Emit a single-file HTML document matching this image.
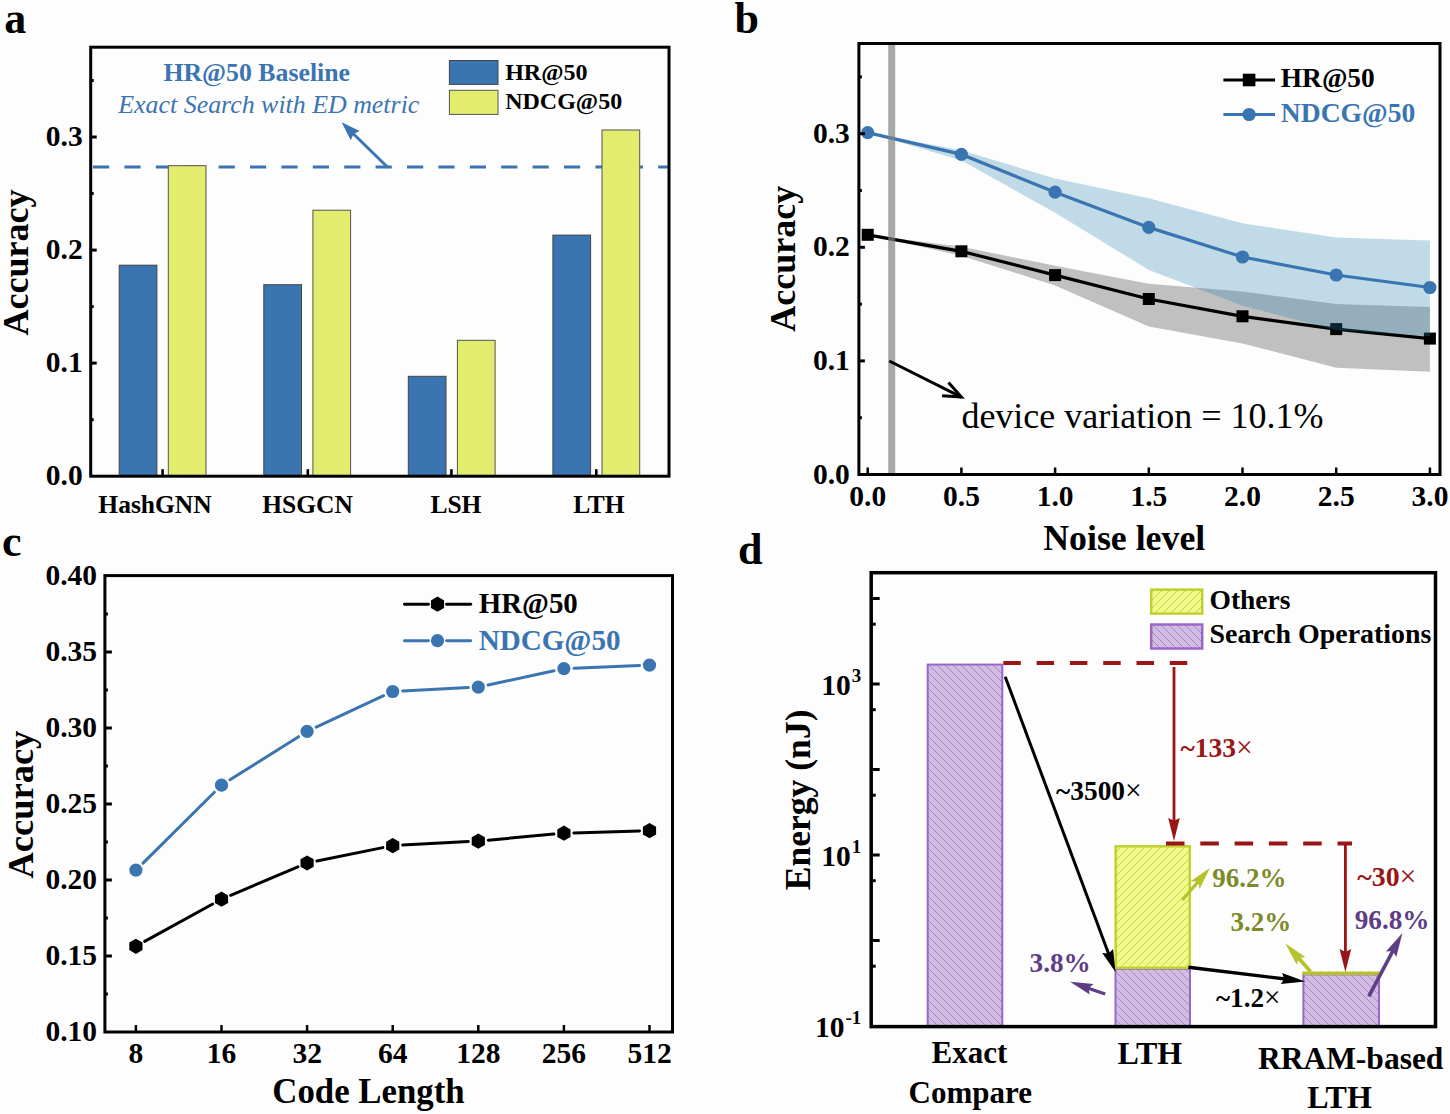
<!DOCTYPE html>
<html><head><meta charset="utf-8"><style>
html,body{margin:0;padding:0;background:#fdfdfd;}
svg{display:block;font-family:"Liberation Serif",serif;}
</style></head><body>
<svg width="1450" height="1114" viewBox="0 0 1450 1114">
<rect width="1450" height="1114" fill="#fdfdfd"/>
<line x1="93.0" y1="166.9" x2="669.0" y2="166.9" stroke="#3b75b1" stroke-width="3" stroke-dasharray="16.2 15.2"/>
<rect x="119.2" y="265.2" width="37.7" height="211.0" fill="#3b75b1" stroke="#444" stroke-width="1"/>
<rect x="168.3" y="165.7" width="37.7" height="310.5" fill="#e3ec6d" stroke="#555" stroke-width="1"/>
<rect x="263.8" y="284.7" width="37.7" height="191.5" fill="#3b75b1" stroke="#444" stroke-width="1"/>
<rect x="312.9" y="210.2" width="37.7" height="266.0" fill="#e3ec6d" stroke="#555" stroke-width="1"/>
<rect x="408.3" y="376.3" width="37.7" height="99.9" fill="#3b75b1" stroke="#444" stroke-width="1"/>
<rect x="457.4" y="340.3" width="37.7" height="135.9" fill="#e3ec6d" stroke="#555" stroke-width="1"/>
<rect x="552.9" y="235.1" width="37.7" height="241.1" fill="#3b75b1" stroke="#444" stroke-width="1"/>
<rect x="602.0" y="130.0" width="37.7" height="346.2" fill="#e3ec6d" stroke="#555" stroke-width="1"/>
<line x1="387.9" y1="167.5" x2="352.8" y2="133.3" stroke="#3b75b1" stroke-width="3"/>
<polygon points="341.6,122.3 359.7,130.9 353.6,134.0 350.7,140.2" fill="#3b75b1" stroke="none" stroke-width="0"/>
<rect x="90.7" y="47.2" width="578.3" height="429.0" fill="none" stroke="#000" stroke-width="3"/>
<line x1="90.7" y1="363.1" x2="96.7" y2="363.1" stroke="#000" stroke-width="3"/>
<line x1="90.7" y1="250.1" x2="96.7" y2="250.1" stroke="#000" stroke-width="3"/>
<line x1="90.7" y1="137.0" x2="96.7" y2="137.0" stroke="#000" stroke-width="3"/>
<line x1="90.7" y1="419.7" x2="93.7" y2="419.7" stroke="#000" stroke-width="3"/>
<line x1="90.7" y1="306.6" x2="93.7" y2="306.6" stroke="#000" stroke-width="3"/>
<line x1="90.7" y1="193.5" x2="93.7" y2="193.5" stroke="#000" stroke-width="3"/>
<line x1="90.7" y1="80.5" x2="93.7" y2="80.5" stroke="#000" stroke-width="3"/>
<line x1="162.6" y1="476.2" x2="162.6" y2="469.2" stroke="#000" stroke-width="2.6"/>
<line x1="307.8" y1="476.2" x2="307.8" y2="469.2" stroke="#000" stroke-width="2.6"/>
<line x1="451.4" y1="476.2" x2="451.4" y2="469.2" stroke="#000" stroke-width="2.6"/>
<line x1="596.3" y1="476.2" x2="596.3" y2="469.2" stroke="#000" stroke-width="2.6"/>
<text x="45.8" y="485.2" font-size="29.5" font-weight="bold" font-style="normal" fill="#000">0.0</text>
<text x="45.8" y="372.1" font-size="29.5" font-weight="bold" font-style="normal" fill="#000">0.1</text>
<text x="45.8" y="259.1" font-size="29.5" font-weight="bold" font-style="normal" fill="#000">0.2</text>
<text x="45.8" y="146.0" font-size="29.5" font-weight="bold" font-style="normal" fill="#000">0.3</text>
<text x="98.3" y="512.5" font-size="25.5" font-weight="bold" font-style="normal" fill="#000">HashGNN</text>
<text x="262.2" y="512.5" font-size="25.5" font-weight="bold" font-style="normal" fill="#000">HSGCN</text>
<text x="430.4" y="512.5" font-size="25.5" font-weight="bold" font-style="normal" fill="#000">LSH</text>
<text x="573.2" y="512.5" font-size="25.5" font-weight="bold" font-style="normal" fill="#000">LTH</text>
<text transform="translate(27.5,262.4) rotate(-90)" x="-73.0" y="0" font-size="36" font-weight="bold" fill="#000">Accuracy</text>
<text x="4.2" y="32.5" font-size="44" font-weight="bold" font-style="normal" fill="#000">a</text>
<rect x="449.4" y="60.5" width="48.6" height="23.9" fill="#3b75b1" stroke="#444" stroke-width="1"/>
<rect x="449.4" y="90.3" width="48.6" height="24.1" fill="#e3ec6d" stroke="#555" stroke-width="1"/>
<text x="505.2" y="79.6" font-size="24" font-weight="bold" font-style="normal" fill="#000">HR@50</text>
<text x="505.2" y="109.0" font-size="24" font-weight="bold" font-style="normal" fill="#000">NDCG@50</text>
<text x="163.4" y="81.0" font-size="25.8" font-weight="bold" font-style="normal" fill="#3b75b1">HR@50 Baseline</text>
<text x="118.3" y="112.9" font-size="25.9" font-weight="normal" font-style="italic" fill="#3b75b1">Exact Search with ED metric</text>
<polygon points="867.7,234.8 961.4,246.7 1055.1,265.7 1148.8,283.7 1242.5,291.6 1336.2,304.1 1429.9,307.1 1429.9,371.8 1336.2,367.7 1242.5,343.4 1148.8,326.4 1055.1,285.5 961.4,255.8 867.7,234.8" fill="#c0c0c0" stroke="none" stroke-width="0"/>
<polyline points="867.7,234.8 961.4,251.3 1055.1,275.1 1148.8,299.0 1242.5,316.3 1336.2,329.1 1429.9,338.6" fill="none" stroke="#000" stroke-width="3.2" stroke-linejoin="miter"/>
<rect x="861.7" y="228.8" width="12.0" height="12.0" fill="#000" stroke="none" stroke-width="0"/>
<rect x="955.4" y="245.3" width="12.0" height="12.0" fill="#000" stroke="none" stroke-width="0"/>
<rect x="1049.1" y="269.1" width="12.0" height="12.0" fill="#000" stroke="none" stroke-width="0"/>
<rect x="1142.8" y="293.0" width="12.0" height="12.0" fill="#000" stroke="none" stroke-width="0"/>
<rect x="1236.5" y="310.3" width="12.0" height="12.0" fill="#000" stroke="none" stroke-width="0"/>
<rect x="1330.2" y="323.1" width="12.0" height="12.0" fill="#000" stroke="none" stroke-width="0"/>
<rect x="1423.9" y="332.6" width="12.0" height="12.0" fill="#000" stroke="none" stroke-width="0"/>
<polygon points="867.7,132.6 961.4,150.2 1055.1,178.5 1148.8,198.3 1242.5,223.3 1336.2,237.6 1429.9,240.5 1429.9,336.2 1336.2,330.2 1242.5,305.8 1148.8,270.0 1055.1,212.7 961.4,160.4 867.7,132.6" fill="rgb(36,133,176)" stroke="none" stroke-width="0" fill-opacity="0.28"/>
<polyline points="867.7,132.6 961.4,154.4 1055.1,192.2 1148.8,227.4 1242.5,257.0 1336.2,275.0 1429.9,287.5" fill="none" stroke="#3b75b1" stroke-width="3.2" stroke-linejoin="miter"/>
<circle cx="867.7" cy="132.6" r="6.6" fill="#3b75b1"/>
<circle cx="961.4" cy="154.4" r="6.6" fill="#3b75b1"/>
<circle cx="1055.1" cy="192.2" r="6.6" fill="#3b75b1"/>
<circle cx="1148.8" cy="227.4" r="6.6" fill="#3b75b1"/>
<circle cx="1242.5" cy="257.0" r="6.6" fill="#3b75b1"/>
<circle cx="1336.2" cy="275.0" r="6.6" fill="#3b75b1"/>
<circle cx="1429.9" cy="287.5" r="6.6" fill="#3b75b1"/>
<rect x="888.2" y="43.5" width="7.0" height="431.0" fill="#7e7e7e" stroke="none" stroke-width="0" fill-opacity="0.675"/>
<line x1="889.3" y1="361.0" x2="961.4" y2="397.1" stroke="#000" stroke-width="3"/>
<polyline points="948.5,382.5 961.4,397.1 942.0,395.8" fill="none" stroke="#000" stroke-width="3" stroke-linejoin="miter"/>
<text x="961.4" y="427.7" font-size="36" font-weight="normal" font-style="normal" fill="#000">device variation = 10.1%</text>
<rect x="858.9" y="43.5" width="581.1" height="431.0" fill="none" stroke="#000" stroke-width="3"/>
<line x1="858.9" y1="360.9" x2="864.9" y2="360.9" stroke="#000" stroke-width="3"/>
<line x1="858.9" y1="247.3" x2="864.9" y2="247.3" stroke="#000" stroke-width="3"/>
<line x1="858.9" y1="133.7" x2="864.9" y2="133.7" stroke="#000" stroke-width="3"/>
<line x1="858.9" y1="417.7" x2="861.9" y2="417.7" stroke="#000" stroke-width="3"/>
<line x1="858.9" y1="304.1" x2="861.9" y2="304.1" stroke="#000" stroke-width="3"/>
<line x1="858.9" y1="190.5" x2="861.9" y2="190.5" stroke="#000" stroke-width="3"/>
<line x1="858.9" y1="76.9" x2="861.9" y2="76.9" stroke="#000" stroke-width="3"/>
<line x1="867.7" y1="474.5" x2="867.7" y2="467.5" stroke="#000" stroke-width="2.5"/>
<line x1="961.4" y1="474.5" x2="961.4" y2="467.5" stroke="#000" stroke-width="2.5"/>
<line x1="1055.1" y1="474.5" x2="1055.1" y2="467.5" stroke="#000" stroke-width="2.5"/>
<line x1="1148.8" y1="474.5" x2="1148.8" y2="467.5" stroke="#000" stroke-width="2.5"/>
<line x1="1242.5" y1="474.5" x2="1242.5" y2="467.5" stroke="#000" stroke-width="2.5"/>
<line x1="1336.2" y1="474.5" x2="1336.2" y2="467.5" stroke="#000" stroke-width="2.5"/>
<line x1="1429.9" y1="474.5" x2="1429.9" y2="467.5" stroke="#000" stroke-width="2.5"/>
<text x="812.9" y="483.5" font-size="29.5" font-weight="bold" font-style="normal" fill="#000">0.0</text>
<text x="812.9" y="369.9" font-size="29.5" font-weight="bold" font-style="normal" fill="#000">0.1</text>
<text x="812.9" y="256.3" font-size="29.5" font-weight="bold" font-style="normal" fill="#000">0.2</text>
<text x="812.9" y="142.7" font-size="29.5" font-weight="bold" font-style="normal" fill="#000">0.3</text>
<text x="849.3" y="505.5" font-size="29.5" font-weight="bold" font-style="normal" fill="#000">0.0</text>
<text x="943.0" y="505.5" font-size="29.5" font-weight="bold" font-style="normal" fill="#000">0.5</text>
<text x="1036.7" y="505.5" font-size="29.5" font-weight="bold" font-style="normal" fill="#000">1.0</text>
<text x="1130.4" y="505.5" font-size="29.5" font-weight="bold" font-style="normal" fill="#000">1.5</text>
<text x="1224.1" y="505.5" font-size="29.5" font-weight="bold" font-style="normal" fill="#000">2.0</text>
<text x="1317.8" y="505.5" font-size="29.5" font-weight="bold" font-style="normal" fill="#000">2.5</text>
<text x="1411.5" y="505.5" font-size="29.5" font-weight="bold" font-style="normal" fill="#000">3.0</text>
<text x="1043.2" y="549.8" font-size="35.8" font-weight="bold" font-style="normal" fill="#000">Noise level</text>
<text transform="translate(794.5,258.8) rotate(-90)" x="-73.0" y="0" font-size="36" font-weight="bold" fill="#000">Accuracy</text>
<text x="734.4" y="32.8" font-size="44" font-weight="bold" font-style="normal" fill="#000">b</text>
<line x1="1223.4" y1="80.0" x2="1275.0" y2="80.0" stroke="#000" stroke-width="3.2"/>
<rect x="1242.8" y="73.7" width="12.6" height="12.6" fill="#000" stroke="none" stroke-width="0"/>
<line x1="1223.4" y1="114.5" x2="1275.0" y2="114.5" stroke="#3b75b1" stroke-width="3.2"/>
<circle cx="1249.1" cy="114.5" r="6.6" fill="#3b75b1"/>
<text x="1280.8" y="86.8" font-size="27.4" font-weight="bold" font-style="normal" fill="#000">HR@50</text>
<text x="1280.8" y="122.0" font-size="27.6" font-weight="bold" font-style="normal" fill="#3b75b1">NDCG@50</text>
<line x1="144.7" y1="941.4" x2="212.7" y2="904.0" stroke="#000" stroke-width="3.0" stroke-linecap="round"/>
<line x1="230.7" y1="895.3" x2="297.9" y2="866.9" stroke="#000" stroke-width="3.0" stroke-linecap="round"/>
<line x1="316.9" y1="861.0" x2="382.9" y2="847.6" stroke="#000" stroke-width="3.0" stroke-linecap="round"/>
<line x1="402.7" y1="845.1" x2="468.3" y2="841.6" stroke="#000" stroke-width="3.0" stroke-linecap="round"/>
<line x1="488.3" y1="840.2" x2="553.9" y2="834.1" stroke="#000" stroke-width="3.0" stroke-linecap="round"/>
<line x1="573.9" y1="832.9" x2="639.5" y2="830.9" stroke="#000" stroke-width="3.0" stroke-linecap="round"/>
<polygon points="135.9,953.9 129.3,950.1 129.3,942.5 135.9,938.7 142.5,942.5 142.5,950.1" fill="#000" stroke="none" stroke-width="0"/>
<polygon points="221.5,906.8 214.9,903.0 214.9,895.4 221.5,891.6 228.1,895.4 228.1,903.0" fill="#000" stroke="none" stroke-width="0"/>
<polygon points="307.1,870.6 300.5,866.8 300.5,859.2 307.1,855.4 313.7,859.2 313.7,866.8" fill="#000" stroke="none" stroke-width="0"/>
<polygon points="392.7,853.2 386.1,849.4 386.1,841.8 392.7,838.0 399.3,841.8 399.3,849.4" fill="#000" stroke="none" stroke-width="0"/>
<polygon points="478.3,848.7 471.7,844.9 471.7,837.3 478.3,833.5 484.9,837.3 484.9,844.9" fill="#000" stroke="none" stroke-width="0"/>
<polygon points="563.9,840.8 557.3,837.0 557.3,829.4 563.9,825.6 570.5,829.4 570.5,837.0" fill="#000" stroke="none" stroke-width="0"/>
<polygon points="649.5,838.2 642.9,834.4 642.9,826.8 649.5,823.0 656.1,826.8 656.1,834.4" fill="#000" stroke="none" stroke-width="0"/>
<line x1="143.0" y1="863.1" x2="214.4" y2="792.2" stroke="#3b75b1" stroke-width="3.0" stroke-linecap="round"/>
<line x1="230.0" y1="779.8" x2="298.6" y2="736.7" stroke="#3b75b1" stroke-width="3.0" stroke-linecap="round"/>
<line x1="316.2" y1="727.1" x2="383.6" y2="695.7" stroke="#3b75b1" stroke-width="3.0" stroke-linecap="round"/>
<line x1="402.7" y1="691.0" x2="468.3" y2="687.6" stroke="#3b75b1" stroke-width="3.0" stroke-linecap="round"/>
<line x1="488.1" y1="685.0" x2="554.1" y2="670.7" stroke="#3b75b1" stroke-width="3.0" stroke-linecap="round"/>
<line x1="573.9" y1="668.2" x2="639.5" y2="665.5" stroke="#3b75b1" stroke-width="3.0" stroke-linecap="round"/>
<circle cx="135.9" cy="870.1" r="6.6" fill="#3b75b1"/>
<circle cx="221.5" cy="785.2" r="6.6" fill="#3b75b1"/>
<circle cx="307.1" cy="731.3" r="6.6" fill="#3b75b1"/>
<circle cx="392.7" cy="691.5" r="6.6" fill="#3b75b1"/>
<circle cx="478.3" cy="687.1" r="6.6" fill="#3b75b1"/>
<circle cx="563.9" cy="668.6" r="6.6" fill="#3b75b1"/>
<circle cx="649.5" cy="665.1" r="6.6" fill="#3b75b1"/>
<rect x="104.9" y="575.6" width="567.6" height="456.4" fill="none" stroke="#000" stroke-width="3"/>
<line x1="135.9" y1="1032.0" x2="135.9" y2="1025.0" stroke="#000" stroke-width="2.5"/>
<line x1="221.5" y1="1032.0" x2="221.5" y2="1025.0" stroke="#000" stroke-width="2.5"/>
<line x1="307.1" y1="1032.0" x2="307.1" y2="1025.0" stroke="#000" stroke-width="2.5"/>
<line x1="392.7" y1="1032.0" x2="392.7" y2="1025.0" stroke="#000" stroke-width="2.5"/>
<line x1="478.3" y1="1032.0" x2="478.3" y2="1025.0" stroke="#000" stroke-width="2.5"/>
<line x1="563.9" y1="1032.0" x2="563.9" y2="1025.0" stroke="#000" stroke-width="2.5"/>
<line x1="649.5" y1="1032.0" x2="649.5" y2="1025.0" stroke="#000" stroke-width="2.5"/>
<line x1="104.9" y1="956.0" x2="111.9" y2="956.0" stroke="#000" stroke-width="3"/>
<line x1="104.9" y1="880.0" x2="111.9" y2="880.0" stroke="#000" stroke-width="3"/>
<line x1="104.9" y1="804.0" x2="111.9" y2="804.0" stroke="#000" stroke-width="3"/>
<line x1="104.9" y1="728.0" x2="111.9" y2="728.0" stroke="#000" stroke-width="3"/>
<line x1="104.9" y1="652.0" x2="111.9" y2="652.0" stroke="#000" stroke-width="3"/>
<line x1="104.9" y1="994.0" x2="107.9" y2="994.0" stroke="#000" stroke-width="3"/>
<line x1="104.9" y1="918.0" x2="107.9" y2="918.0" stroke="#000" stroke-width="3"/>
<line x1="104.9" y1="842.0" x2="107.9" y2="842.0" stroke="#000" stroke-width="3"/>
<line x1="104.9" y1="766.0" x2="107.9" y2="766.0" stroke="#000" stroke-width="3"/>
<line x1="104.9" y1="690.0" x2="107.9" y2="690.0" stroke="#000" stroke-width="3"/>
<line x1="104.9" y1="614.0" x2="107.9" y2="614.0" stroke="#000" stroke-width="3"/>
<text x="45.4" y="1040.8" font-size="29.5" font-weight="bold" font-style="normal" fill="#000">0.10</text>
<text x="45.4" y="964.8" font-size="29.5" font-weight="bold" font-style="normal" fill="#000">0.15</text>
<text x="45.4" y="888.8" font-size="29.5" font-weight="bold" font-style="normal" fill="#000">0.20</text>
<text x="45.4" y="812.8" font-size="29.5" font-weight="bold" font-style="normal" fill="#000">0.25</text>
<text x="45.4" y="736.8" font-size="29.5" font-weight="bold" font-style="normal" fill="#000">0.30</text>
<text x="45.4" y="660.8" font-size="29.5" font-weight="bold" font-style="normal" fill="#000">0.35</text>
<text x="45.4" y="584.8" font-size="29.5" font-weight="bold" font-style="normal" fill="#000">0.40</text>
<text x="128.5" y="1062.5" font-size="29.5" font-weight="bold" font-style="normal" fill="#000">8</text>
<text x="206.8" y="1062.5" font-size="29.5" font-weight="bold" font-style="normal" fill="#000">16</text>
<text x="292.4" y="1062.5" font-size="29.5" font-weight="bold" font-style="normal" fill="#000">32</text>
<text x="377.9" y="1062.5" font-size="29.5" font-weight="bold" font-style="normal" fill="#000">64</text>
<text x="456.2" y="1062.5" font-size="29.5" font-weight="bold" font-style="normal" fill="#000">128</text>
<text x="541.8" y="1062.5" font-size="29.5" font-weight="bold" font-style="normal" fill="#000">256</text>
<text x="627.4" y="1062.5" font-size="29.5" font-weight="bold" font-style="normal" fill="#000">512</text>
<text x="272.3" y="1103.1" font-size="34.8" font-weight="bold" font-style="normal" fill="#000">Code Length</text>
<text transform="translate(33.2,804.6) rotate(-90)" x="-74.0" y="0" font-size="36.5" font-weight="bold" fill="#000">Accuracy</text>
<text x="2.0" y="555.8" font-size="44" font-weight="bold" font-style="normal" fill="#000">c</text>
<line x1="404.5" y1="604.2" x2="428.5" y2="604.2" stroke="#000" stroke-width="2.9" stroke-linecap="round"/>
<line x1="446.5" y1="604.2" x2="470.7" y2="604.2" stroke="#000" stroke-width="2.9" stroke-linecap="round"/>
<polygon points="437.5,611.8 430.9,608.0 430.9,600.4 437.5,596.6 444.1,600.4 444.1,608.0" fill="#000" stroke="none" stroke-width="0"/>
<line x1="404.5" y1="640.7" x2="428.5" y2="640.7" stroke="#3b75b1" stroke-width="2.9" stroke-linecap="round"/>
<line x1="446.5" y1="640.7" x2="470.7" y2="640.7" stroke="#3b75b1" stroke-width="2.9" stroke-linecap="round"/>
<circle cx="437.5" cy="640.7" r="6.6" fill="#3b75b1"/>
<text x="478.7" y="613.4" font-size="28.9" font-weight="bold" font-style="normal" fill="#000">HR@50</text>
<text x="478.7" y="649.9" font-size="29.1" font-weight="bold" font-style="normal" fill="#3b75b1">NDCG@50</text>
<defs>
<pattern id="hp" patternUnits="userSpaceOnUse" width="8" height="8"><rect width="8" height="8" fill="#d0bde0"/><path d="M-2,-2 L10,10 M-2,6 L2,10 M6,-2 L10,2" stroke="#a985d2" stroke-width="1"/></pattern>
<pattern id="hy" patternUnits="userSpaceOnUse" width="8" height="8"><rect width="8" height="8" fill="#f0fa8a"/><path d="M-2,10 L10,-2 M-2,2 L2,-2 M6,10 L10,6" stroke="#c8d648" stroke-width="1"/></pattern>
</defs>
<rect x="927.7" y="664.6" width="74.6" height="362.0" fill="url(#hp)" stroke="#9b66c9" stroke-width="2"/>
<rect x="1115.5" y="968.8" width="74.5" height="57.8" fill="url(#hp)" stroke="#9b66c9" stroke-width="2"/>
<rect x="1115.7" y="846.3" width="74.1" height="121.5" fill="url(#hy)" stroke="#c2cf30" stroke-width="2.5"/>
<rect x="1303.4" y="974.4" width="75.6" height="52.2" fill="url(#hp)" stroke="#9b66c9" stroke-width="2"/>
<line x1="1302.4" y1="973.2" x2="1379.6" y2="973.2" stroke="#b5c22a" stroke-width="3.4"/>
<line x1="1003.3" y1="663.1" x2="1189.2" y2="663.1" stroke="#9a1515" stroke-width="4" stroke-dasharray="17.5 15.8"/>
<line x1="1166.0" y1="843.5" x2="1352.0" y2="843.5" stroke="#9a1515" stroke-width="4" stroke-dasharray="18.5 15.8"/>
<line x1="1174.0" y1="667.0" x2="1174.0" y2="821.8" stroke="#9a1515" stroke-width="2.8"/>
<polygon points="1174.0,841.0 1168.2,818.0 1174.0,820.8 1179.8,818.0" fill="#9a1515" stroke="none" stroke-width="0"/>
<line x1="1345.4" y1="845.0" x2="1345.4" y2="952.9" stroke="#9a1515" stroke-width="2.8"/>
<polygon points="1345.4,972.1 1339.6,949.1 1345.4,951.9 1351.2,949.1" fill="#9a1515" stroke="none" stroke-width="0"/>
<line x1="1005.2" y1="676.8" x2="1108.9" y2="954.4" stroke="#000" stroke-width="3"/>
<polygon points="1115.5,972.0 1102.2,953.0 1108.6,953.5 1113.1,948.9" fill="#000" stroke="none" stroke-width="0"/>
<line x1="1188.4" y1="967.3" x2="1285.3" y2="979.0" stroke="#000" stroke-width="3.4"/>
<polygon points="1305.3,981.4 1280.8,984.0 1284.3,978.9 1282.1,973.1" fill="#000" stroke="none" stroke-width="0"/>
<line x1="1182.4" y1="900.0" x2="1198.8" y2="880.9" stroke="#b5c22a" stroke-width="3.2"/>
<polygon points="1210.1,867.7 1199.6,889.0 1198.1,881.7 1190.6,881.3" fill="#b5c22a" stroke="none" stroke-width="0"/>
<line x1="1310.5" y1="971.6" x2="1298.0" y2="957.6" stroke="#b5c22a" stroke-width="3.8"/>
<polygon points="1285.4,943.4 1305.4,957.1 1298.7,958.3 1296.7,964.8" fill="#b5c22a" stroke="none" stroke-width="0"/>
<line x1="1368.8" y1="996.3" x2="1393.3" y2="950.2" stroke="#5e3d85" stroke-width="3.6"/>
<polygon points="1402.4,933.1 1396.3,957.0 1392.8,951.1 1386.0,951.6" fill="#5e3d85" stroke="none" stroke-width="0"/>
<line x1="1105.2" y1="994.1" x2="1087.5" y2="987.9" stroke="#5e3d85" stroke-width="3.2"/>
<polygon points="1070.0,981.7 1093.6,984.1 1088.4,988.2 1089.8,994.6" fill="#5e3d85" stroke="none" stroke-width="0"/>
<rect x="871.2" y="572.7" width="564.3" height="453.9" fill="none" stroke="#000" stroke-width="3.5"/>
<line x1="871.2" y1="940.5" x2="879.7" y2="940.5" stroke="#000" stroke-width="3"/>
<line x1="871.2" y1="855.0" x2="879.7" y2="855.0" stroke="#000" stroke-width="3"/>
<line x1="871.2" y1="769.5" x2="879.7" y2="769.5" stroke="#000" stroke-width="3"/>
<line x1="871.2" y1="684.0" x2="879.7" y2="684.0" stroke="#000" stroke-width="3"/>
<line x1="871.2" y1="598.5" x2="879.7" y2="598.5" stroke="#000" stroke-width="3"/>
<line x1="871.2" y1="966.2" x2="875.7" y2="966.2" stroke="#000" stroke-width="3"/>
<line x1="871.2" y1="880.7" x2="875.7" y2="880.7" stroke="#000" stroke-width="3"/>
<line x1="871.2" y1="795.2" x2="875.7" y2="795.2" stroke="#000" stroke-width="3"/>
<line x1="871.2" y1="709.7" x2="875.7" y2="709.7" stroke="#000" stroke-width="3"/>
<line x1="871.2" y1="624.2" x2="875.7" y2="624.2" stroke="#000" stroke-width="3"/>
<text x="821.3" y="695.0" font-size="29.5" font-weight="bold" font-style="normal" fill="#000">10</text>
<text x="851.8" y="682.0" font-size="19" font-weight="bold" font-style="normal" fill="#000">3</text>
<text x="821.3" y="866.0" font-size="29.5" font-weight="bold" font-style="normal" fill="#000">10</text>
<text x="851.8" y="853.0" font-size="19" font-weight="bold" font-style="normal" fill="#000">1</text>
<text x="815.0" y="1037.0" font-size="29.5" font-weight="bold" font-style="normal" fill="#000">10</text>
<text x="845.5" y="1024.0" font-size="19" font-weight="bold" font-style="normal" fill="#000">-1</text>
<text x="931.6" y="1062.9" font-size="31" font-weight="bold" font-style="normal" fill="#000">Exact</text>
<text x="908.6" y="1102.5" font-size="31" font-weight="bold" font-style="normal" fill="#000">Compare</text>
<text x="1117.5" y="1064.1" font-size="32" font-weight="bold" font-style="normal" fill="#000">LTH</text>
<text x="1257.9" y="1069.4" font-size="31.5" font-weight="bold" font-style="normal" fill="#000">RRAM-based</text>
<text x="1307.2" y="1107.7" font-size="32" font-weight="bold" font-style="normal" fill="#000">LTH</text>
<text transform="translate(810.3,799.8) rotate(-90)" x="-90.5" y="0" font-size="35.6" font-weight="bold" fill="#000">Energy (nJ)</text>
<text x="738.0" y="563.9" font-size="44" font-weight="bold" font-style="normal" fill="#000">d</text>
<rect x="1151.2" y="589.6" width="51.0" height="24.0" fill="url(#hy)" stroke="#c2cf30" stroke-width="2.5"/>
<rect x="1151.2" y="624.5" width="51.0" height="24.0" fill="url(#hp)" stroke="#9b66c9" stroke-width="2.5"/>
<text x="1209.5" y="609.2" font-size="27.5" font-weight="bold" font-style="normal" fill="#000">Others</text>
<text x="1209.5" y="643.1" font-size="27.9" font-weight="bold" font-style="normal" fill="#000">Search Operations</text>
<text x="1180.4" y="756.5" font-size="27.5" font-weight="bold" font-style="normal" fill="#9a1515">~133<tspan font-weight="normal" font-size="1.08em">×</tspan></text>
<text x="1056.0" y="799.6" font-size="27.4" font-weight="bold" font-style="normal" fill="#000">~3500<tspan font-weight="normal" font-size="1.08em">×</tspan></text>
<text x="1357.3" y="885.5" font-size="27.8" font-weight="bold" font-style="normal" fill="#9a1515">~30<tspan font-weight="normal" font-size="1.08em">×</tspan></text>
<text x="1212.2" y="887.0" font-size="27.0" font-weight="bold" font-style="normal" fill="#7d8a28">96.2%</text>
<text x="1230.6" y="931.3" font-size="27.0" font-weight="bold" font-style="normal" fill="#7d8a28">3.2%</text>
<text x="1354.7" y="929.2" font-size="27.2" font-weight="bold" font-style="normal" fill="#5e3d85">96.8%</text>
<text x="1029.6" y="972.0" font-size="27.2" font-weight="bold" font-style="normal" fill="#5e3d85">3.8%</text>
<text x="1216.0" y="1007.4" font-size="27.1" font-weight="bold" font-style="normal" fill="#000">~1.2<tspan font-weight="normal" font-size="1.08em">×</tspan></text>
</svg></body></html>
